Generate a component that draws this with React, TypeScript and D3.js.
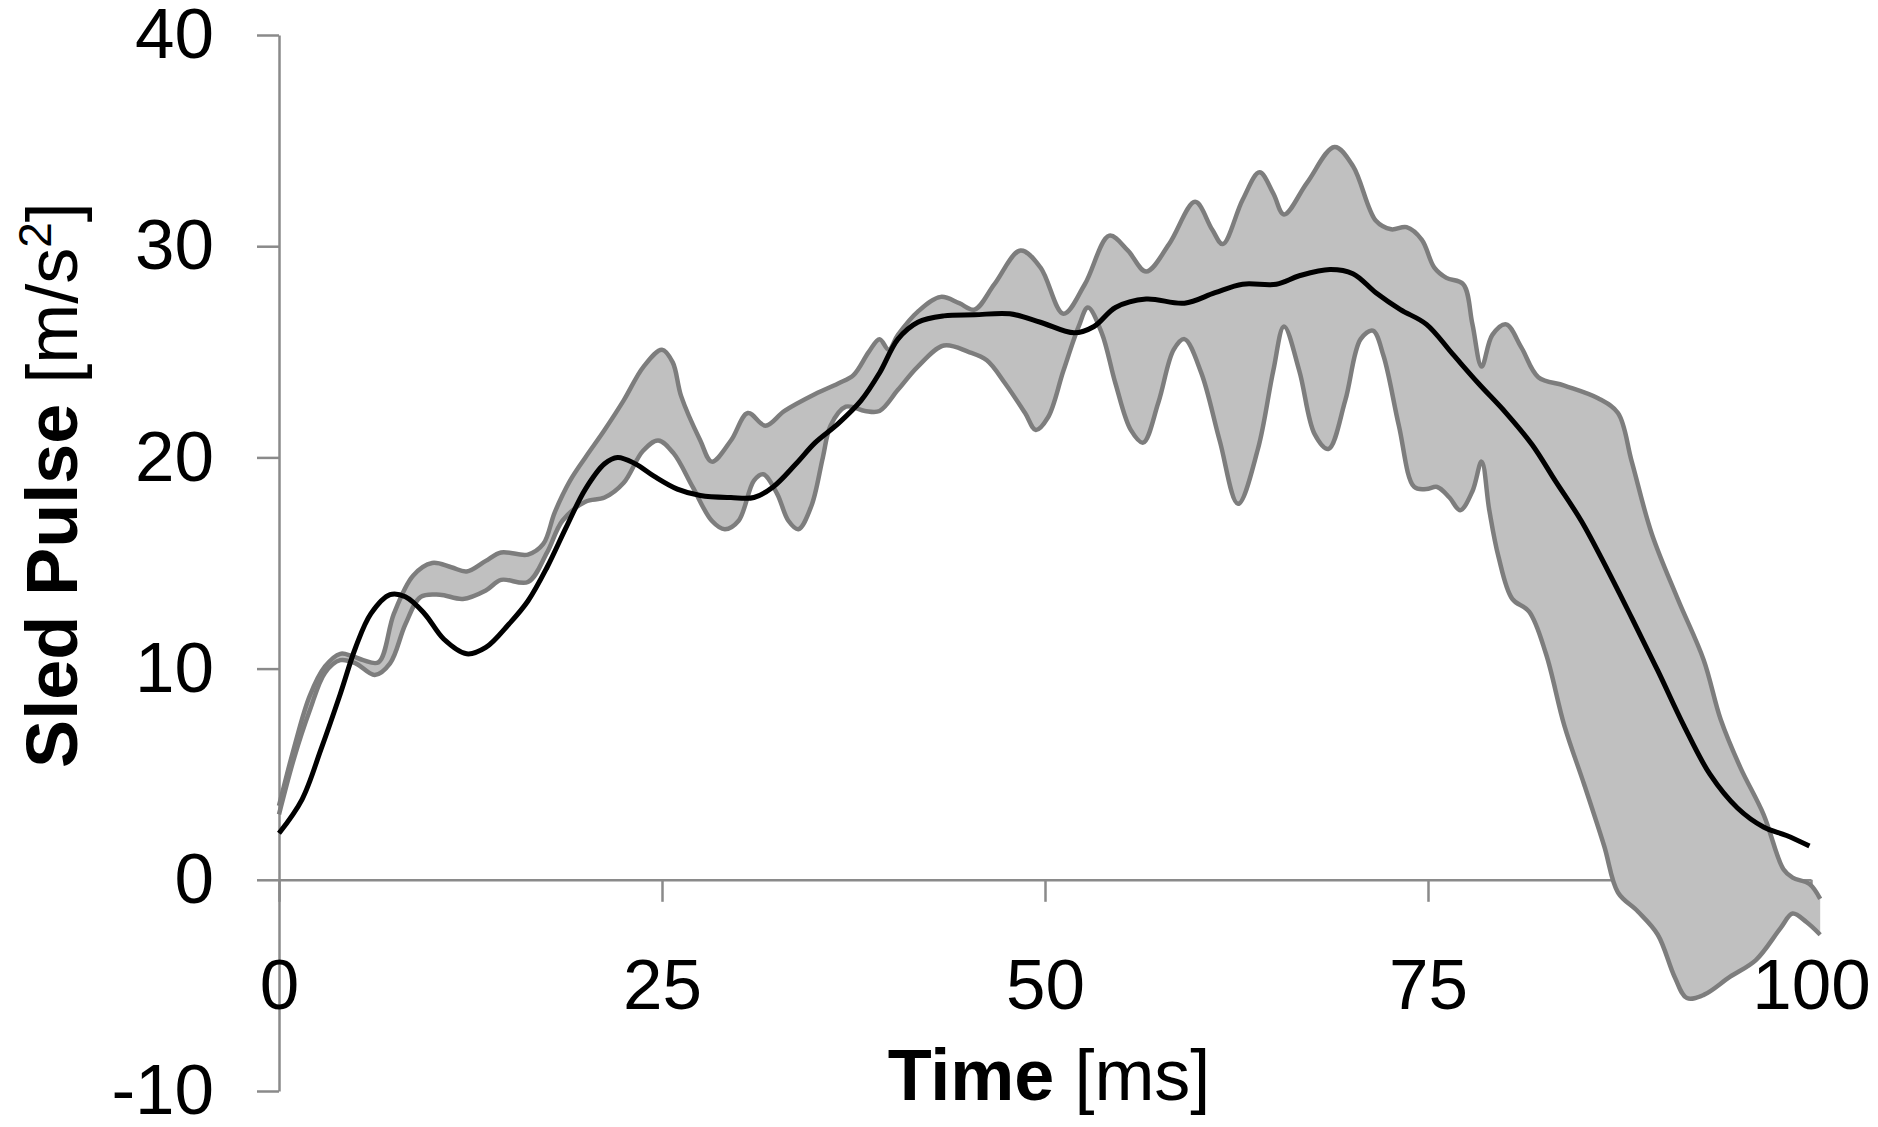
import { useEffect, useRef } from 'react';
import * as d3 from 'd3';

// black mean curve
const meanT = [0, 1.5, 2.75, 4, 5, 6, 7.25, 8.25, 9.5, 10.75, 12.25, 13.5, 15, 16.25, 17.5, 18.75, 20, 21.25, 22.1, 23.25, 24.5, 26, 27.5, 29.5, 31, 32.25, 33.75, 35, 36.5, 38, 39.2, 40.4, 41.7, 43.4, 45.4, 47.7, 49.7, 51.9, 53.2, 54.6, 56.6, 59.1, 61.1, 62.9, 65.1, 66.6, 68.6, 70.1, 71.6, 73.2, 74.9, 76.6, 78.3, 80.1, 81.8, 83.3, 85, 86.7, 88.3, 90, 91.7, 93.4, 95.2, 96.9, 98.4, 99.9];
const meanV = [2.2, 3.8, 6.2, 8.8, 11.0, 12.6, 13.5, 13.4, 12.6, 11.4, 10.7, 11.0, 12.1, 13.2, 14.8, 16.7, 18.5, 19.7, 20.0, 19.7, 19.1, 18.5, 18.2, 18.1, 18.1, 18.6, 19.7, 20.7, 21.6, 22.7, 24.0, 25.6, 26.4, 26.7, 26.75, 26.8, 26.4, 25.9, 26.2, 27.1, 27.5, 27.3, 27.8, 28.2, 28.2, 28.6, 28.9, 28.7, 27.8, 27.0, 26.3, 24.9, 23.5, 22.1, 20.6, 18.9, 17.0, 14.7, 12.4, 9.9, 7.3, 5.0, 3.4, 2.5, 2.1, 1.6];

// upper edge of the grey corridor
const upperT = [0, 1, 2, 3, 4, 4.75, 5.5, 6.5, 7.5, 8.75, 10, 11.25, 12.25, 13.5, 14.5, 16.25, 17.25, 18, 19, 20, 21.25, 22.5, 23.8, 25, 25.7, 26.25, 27.5, 28.25, 29.5, 30.6, 31.75, 33, 35, 36.5, 37.5, 38.5, 39.2, 39.8, 40.4, 41.7, 43.2, 44.4, 45.4, 46.7, 48.4, 49.7, 51.2, 52.6, 54.2, 55.4, 56.6, 58.1, 59.8, 60.9, 61.6, 62.9, 64, 64.9, 65.6, 67.1, 68.9, 70.1, 71.6, 72.6, 73.6, 74.6, 75.4, 76.2, 77.3, 77.9, 78.5, 79.2, 80.1, 81.1, 82.2, 83.9, 86.1, 87.4, 88.3, 89.6, 91.3, 93, 94.1, 95.4, 96.9, 98.2, 98.8, 99.9, 100.6];
const upperV = [3.5, 6.3, 8.7, 10.1, 10.7, 10.6, 10.4, 10.3, 12.6, 14.4, 15.0, 14.8, 14.6, 15.1, 15.5, 15.4, 15.9, 17.4, 18.9, 20.0, 21.3, 22.7, 24.3, 25.1, 24.5, 22.9, 20.8, 19.8, 20.8, 22.1, 21.5, 22.2, 23.0, 23.5, 23.9, 25.0, 25.6, 25.1, 25.8, 26.9, 27.6, 27.3, 27.0, 28.2, 29.8, 29.0, 26.8, 28.2, 30.5, 29.8, 28.8, 30.1, 32.1, 30.8, 30.1, 32.2, 33.5, 32.5, 31.5, 33.0, 34.7, 33.8, 31.2, 30.8, 30.9, 30.3, 29.0, 28.5, 28.2, 26.3, 24.3, 25.8, 26.3, 25.2, 23.8, 23.4, 22.8, 22.1, 19.8, 16.4, 13.3, 10.4, 7.6, 5.3, 3.1, 0.5, 0.1, -0.2, -0.9];

// lower edge of the grey corridor
const lowerT = [0, 1, 2, 3, 4, 5, 6.25, 7.25, 8.25, 9.25, 10.5, 12, 13.5, 14.5, 16.25, 17.5, 18.5, 20, 21.25, 22.5, 23.75, 24.75, 25.75, 27, 28.25, 29.1, 30, 31, 31.6, 32.5, 33.25, 33.9, 34.75, 35.5, 36, 37, 38.25, 39.2, 40.4, 41.7, 43.4, 45, 46.2, 47.4, 48.7, 49.4, 50.2, 51.2, 52.2, 52.8, 53.7, 54.6, 55.6, 56.4, 57.4, 58.4, 59.1, 60.2, 61.4, 62.6, 63.9, 64.9, 65.6, 66.6, 67.6, 68.5, 69.6, 70.6, 71.4, 72.1, 73.1, 74.1, 74.9, 75.6, 76.4, 77.1, 77.9, 78.5, 79, 79.6, 80.5, 81.6, 82.7, 83.9, 85.2, 86.5, 87.4, 88.7, 90, 91.1, 91.9, 93, 94.7, 96.4, 98, 98.8, 99.7, 100.6];
const lowerV = [3.1, 5.8, 8.0, 9.8, 10.4, 10.25, 9.7, 10.25, 12.1, 13.4, 13.5, 13.3, 13.7, 14.2, 14.1, 15.5, 17.0, 17.9, 18.1, 18.8, 20.3, 20.8, 20.2, 18.6, 17.0, 16.6, 17.0, 18.9, 19.2, 18.3, 17.0, 16.6, 17.7, 20.0, 21.5, 22.4, 22.2, 22.2, 23.2, 24.3, 25.3, 25.0, 24.6, 23.5, 22.1, 21.3, 21.9, 24.1, 26.2, 27.1, 25.9, 23.5, 21.3, 20.7, 22.6, 25.1, 25.6, 24.0, 20.8, 17.8, 20.4, 24.1, 26.2, 24.1, 21.1, 20.4, 22.7, 25.6, 26.0, 24.8, 21.5, 18.6, 18.5, 18.6, 18.1, 17.5, 18.4, 19.8, 17.5, 15.3, 13.3, 12.7, 10.7, 7.3, 4.5, 1.6, -0.6, -1.5, -2.6, -4.6, -5.6, -5.45, -4.6, -3.8, -2.3, -1.6, -2.0, -2.6];

const xTicks = [0, 25, 50, 75, 100];
const yTicks = [-10, 0, 10, 20, 30, 40];

const W = 1878;
const H = 1127;
const FONT = '"Liberation Sans", Arial, sans-serif';

export default function App() {
  const svgRef = useRef<SVGSVGElement>(null);

  useEffect(() => {
    if (!svgRef.current) return;
    const svg = d3.select(svgRef.current);
    svg.selectAll('*').remove();

    const x = d3.scaleLinear().domain([0, 100]).range([279, 1811]);
    const y = d3.scaleLinear().domain([-10, 40]).range([1091, 35]);

    const axisColor = '#8a8a8a';

    // y axis
    const gy = svg.append('g')
      .attr('transform', `translate(${x(0)},0)`)
      .call(d3.axisLeft(y).tickValues(yTicks).tickFormat(d => String(d))
        .tickSize(22).tickSizeOuter(0).tickPadding(43));
    gy.select('.domain').attr('stroke', axisColor).attr('stroke-width', 2.5);
    gy.selectAll('.tick line').attr('stroke', axisColor).attr('stroke-width', 2.5);
    gy.selectAll('.tick text')
      .attr('fill', '#000')
      .style('font-family', FONT)
      .style('font-size', '71px');

    // x axis along zero
    const gx = svg.append('g')
      .attr('transform', `translate(0,${y(0)})`)
      .call(d3.axisBottom(x).tickValues(xTicks).tickFormat(d => String(d))
        .tickSize(22).tickSizeOuter(0).tickPadding(57));
    gx.select('.domain').attr('stroke', axisColor).attr('stroke-width', 2.5);
    gx.selectAll('.tick line').attr('stroke', axisColor).attr('stroke-width', 2.5);
    gx.selectAll('.tick text')
      .attr('fill', '#000')
      .style('font-family', FONT)
      .style('font-size', '71px');

    const upper = upperT.map((t, i) => [t, upperV[i]] as [number, number]);
    const lower = lowerT.map((t, i) => [t, lowerV[i]] as [number, number]);
    const mean = meanT.map((t, i) => [t, meanV[i]] as [number, number]);

    const line = d3.line<[number, number]>()
      .x(d => x(d[0]))
      .y(d => y(d[1]))
      .curve(d3.curveCatmullRom.alpha(0.5));

    // grey corridor: upper forward, lower back
    const upPath = line(upper) || '';
    const lowBack = line(lower.slice().reverse()) || '';
    svg.append('path')
      .attr('d', upPath + 'L' + lowBack.slice(1) + 'Z')
      .attr('fill', '#c0c0c0')
      .attr('stroke', 'none');

    [upper, lower].forEach(edge => {
      svg.append('path')
        .attr('d', line(edge))
        .attr('fill', 'none')
        .attr('stroke', '#7d7d7d')
        .attr('stroke-width', 4.5);
    });

    svg.append('path')
      .attr('d', line(mean))
      .attr('fill', 'none')
      .attr('stroke', '#000')
      .attr('stroke-width', 5);

    // axis titles
    const xt = svg.append('text')
      .attr('x', 1049)
      .attr('y', 1100)
      .attr('text-anchor', 'middle')
      .style('font-family', FONT)
      .style('font-size', '72px');
    xt.append('tspan').attr('font-weight', 'bold').text('Time');
    xt.append('tspan').text(' [ms]');

    const yt = svg.append('text')
      .attr('transform', 'translate(77,485) rotate(-90)')
      .attr('text-anchor', 'middle')
      .style('font-family', FONT)
      .style('font-size', '72px');
    yt.append('tspan').attr('font-weight', 'bold').text('Sled Pulse');
    yt.append('tspan').text(' [m/s');
    yt.append('tspan').attr('baseline-shift', 'super').style('font-size', '46px').text('2');
    yt.append('tspan').text(']');
  }, []);

  return (
    <>
      <style>{'body{margin:0;background:#fff}'}</style>
      <svg ref={svgRef} width={W} height={H} style={{ display: 'block', overflow: 'visible' }} />
    </>
  );
}
